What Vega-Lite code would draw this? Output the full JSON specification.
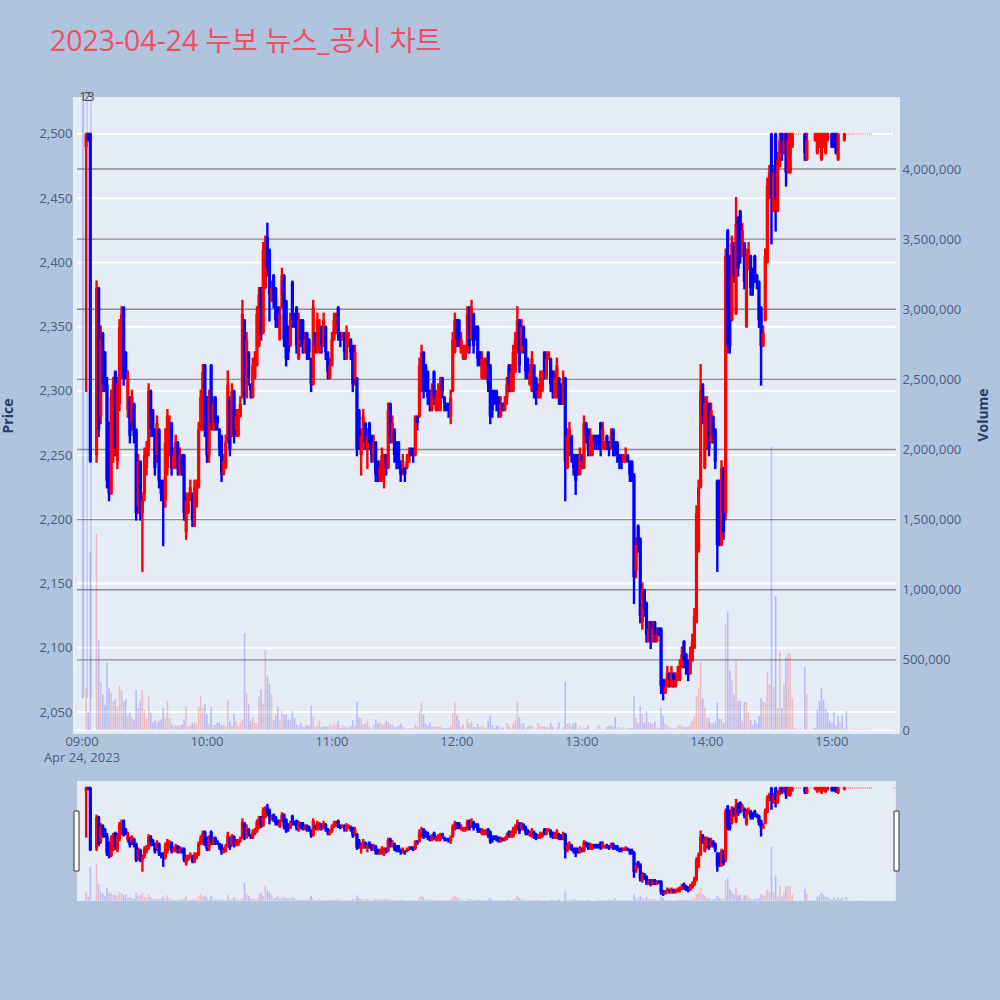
{"$schema":"https://vega.github.io/schema/vega-lite/v6.json","background":"#B0C4DE","padding":{"left":1,"top":27,"right":14,"bottom":104},"bounds":"flush","spacing":47,"title":{"text":"2023-04-24 누보 뉴스_공시 차트","anchor":"start","frame":"group","fontSize":28.4,"font":"Open Sans, Noto Sans CJK KR","color":"#EF5064","fontWeight":"normal","offset":34,"dx":-23},"config":{"view":{"stroke":null},"axis":{"labelFont":"Open Sans","titleFont":"Open Sans"}},"datasets":{"ohlc":[
{"t":"2023-04-24T09:02","o":2490,"h":2500,"l":2300,"c":2500,"v":300000},
{"t":"2023-04-24T09:03","o":2500,"h":2500,"l":2495,"c":2495,"v":130000},
{"t":"2023-04-24T09:04","o":2500,"h":2500,"l":2245,"c":2245,"v":1270000},
{"t":"2023-04-24T09:07","o":2250,"h":2385,"l":2245,"c":2380,"v":1400000},
{"t":"2023-04-24T09:08","o":2380,"h":2380,"l":2265,"c":2270,"v":640000},
{"t":"2023-04-24T09:09","o":2280,"h":2350,"l":2275,"c":2340,"v":340000},
{"t":"2023-04-24T09:10","o":2345,"h":2345,"l":2300,"c":2305,"v":255000},
{"t":"2023-04-24T09:11","o":2330,"h":2330,"l":2300,"c":2305,"v":180000},
{"t":"2023-04-24T09:12","o":2305,"h":2310,"l":2225,"c":2230,"v":480000},
{"t":"2023-04-24T09:13","o":2275,"h":2275,"l":2215,"c":2220,"v":300000},
{"t":"2023-04-24T09:14","o":2220,"h":2300,"l":2220,"c":2295,"v":265000},
{"t":"2023-04-24T09:15","o":2250,"h":2310,"l":2245,"c":2305,"v":205000},
{"t":"2023-04-24T09:16","o":2315,"h":2315,"l":2250,"c":2255,"v":220000},
{"t":"2023-04-24T09:17","o":2245,"h":2310,"l":2240,"c":2305,"v":165000},
{"t":"2023-04-24T09:18","o":2290,"h":2355,"l":2285,"c":2350,"v":315000},
{"t":"2023-04-24T09:19","o":2315,"h":2365,"l":2310,"c":2360,"v":280000},
{"t":"2023-04-24T09:20","o":2365,"h":2365,"l":2305,"c":2310,"v":205000},
{"t":"2023-04-24T09:21","o":2330,"h":2330,"l":2310,"c":2315,"v":220000},
{"t":"2023-04-24T09:22","o":2285,"h":2315,"l":2280,"c":2310,"v":100000},
{"t":"2023-04-24T09:23","o":2295,"h":2295,"l":2260,"c":2265,"v":125000},
{"t":"2023-04-24T09:24","o":2275,"h":2300,"l":2270,"c":2295,"v":90000},
{"t":"2023-04-24T09:25","o":2290,"h":2290,"l":2260,"c":2265,"v":75000},
{"t":"2023-04-24T09:26","o":2270,"h":2270,"l":2200,"c":2205,"v":285000},
{"t":"2023-04-24T09:27","o":2210,"h":2250,"l":2205,"c":2245,"v":160000},
{"t":"2023-04-24T09:28","o":2245,"h":2245,"l":2200,"c":2205,"v":210000},
{"t":"2023-04-24T09:29","o":2205,"h":2220,"l":2160,"c":2215,"v":285000},
{"t":"2023-04-24T09:30","o":2220,"h":2255,"l":2215,"c":2250,"v":145000},
{"t":"2023-04-24T09:31","o":2240,"h":2260,"l":2235,"c":2255,"v":85000},
{"t":"2023-04-24T09:32","o":2255,"h":2305,"l":2250,"c":2300,"v":240000},
{"t":"2023-04-24T09:33","o":2300,"h":2300,"l":2265,"c":2270,"v":125000},
{"t":"2023-04-24T09:34","o":2285,"h":2285,"l":2265,"c":2270,"v":55000},
{"t":"2023-04-24T09:35","o":2270,"h":2270,"l":2235,"c":2240,"v":70000},
{"t":"2023-04-24T09:36","o":2250,"h":2280,"l":2245,"c":2275,"v":55000},
{"t":"2023-04-24T09:37","o":2270,"h":2270,"l":2225,"c":2230,"v":65000},
{"t":"2023-04-24T09:38","o":2230,"h":2230,"l":2215,"c":2220,"v":75000},
{"t":"2023-04-24T09:39","o":2230,"h":2230,"l":2180,"c":2220,"v":160000},
{"t":"2023-04-24T09:40","o":2215,"h":2270,"l":2210,"c":2260,"v":85000},
{"t":"2023-04-24T09:41","o":2240,"h":2285,"l":2235,"c":2280,"v":205000},
{"t":"2023-04-24T09:42","o":2255,"h":2280,"l":2250,"c":2275,"v":85000},
{"t":"2023-04-24T09:43","o":2275,"h":2275,"l":2235,"c":2240,"v":45000},
{"t":"2023-04-24T09:44","o":2240,"h":2255,"l":2240,"c":2250,"v":30000},
{"t":"2023-04-24T09:45","o":2240,"h":2265,"l":2240,"c":2260,"v":35000},
{"t":"2023-04-24T09:46","o":2260,"h":2260,"l":2235,"c":2240,"v":30000},
{"t":"2023-04-24T09:47","o":2240,"h":2255,"l":2235,"c":2250,"v":40000},
{"t":"2023-04-24T09:48","o":2250,"h":2250,"l":2235,"c":2240,"v":40000},
{"t":"2023-04-24T09:49","o":2250,"h":2250,"l":2200,"c":2205,"v":75000},
{"t":"2023-04-24T09:50","o":2190,"h":2220,"l":2185,"c":2215,"v":165000},
{"t":"2023-04-24T09:51","o":2205,"h":2220,"l":2205,"c":2215,"v":25000},
{"t":"2023-04-24T09:52","o":2215,"h":2230,"l":2215,"c":2225,"v":30000},
{"t":"2023-04-24T09:53","o":2220,"h":2220,"l":2195,"c":2200,"v":50000},
{"t":"2023-04-24T09:54","o":2195,"h":2230,"l":2195,"c":2225,"v":55000},
{"t":"2023-04-24T09:55","o":2210,"h":2230,"l":2210,"c":2225,"v":45000},
{"t":"2023-04-24T09:56","o":2225,"h":2275,"l":2225,"c":2270,"v":165000},
{"t":"2023-04-24T09:57","o":2270,"h":2300,"l":2270,"c":2295,"v":240000},
{"t":"2023-04-24T09:58","o":2270,"h":2320,"l":2270,"c":2315,"v":160000},
{"t":"2023-04-24T09:59","o":2320,"h":2320,"l":2265,"c":2270,"v":185000},
{"t":"2023-04-24T10:00","o":2295,"h":2295,"l":2245,"c":2250,"v":110000},
{"t":"2023-04-24T10:01","o":2250,"h":2300,"l":2245,"c":2295,"v":45000},
{"t":"2023-04-24T10:02","o":2320,"h":2320,"l":2270,"c":2275,"v":165000},
{"t":"2023-04-24T10:03","o":2270,"h":2295,"l":2270,"c":2290,"v":35000},
{"t":"2023-04-24T10:04","o":2295,"h":2295,"l":2270,"c":2275,"v":35000},
{"t":"2023-04-24T10:05","o":2280,"h":2280,"l":2270,"c":2275,"v":50000},
{"t":"2023-04-24T10:06","o":2270,"h":2270,"l":2250,"c":2255,"v":55000},
{"t":"2023-04-24T10:07","o":2265,"h":2265,"l":2230,"c":2235,"v":35000},
{"t":"2023-04-24T10:08","o":2235,"h":2250,"l":2235,"c":2245,"v":40000},
{"t":"2023-04-24T10:09","o":2240,"h":2265,"l":2240,"c":2260,"v":25000},
{"t":"2023-04-24T10:10","o":2260,"h":2315,"l":2260,"c":2305,"v":210000},
{"t":"2023-04-24T10:11","o":2295,"h":2295,"l":2250,"c":2255,"v":65000},
{"t":"2023-04-24T10:12","o":2265,"h":2305,"l":2265,"c":2300,"v":30000},
{"t":"2023-04-24T10:13","o":2300,"h":2300,"l":2260,"c":2265,"v":115000},
{"t":"2023-04-24T10:14","o":2270,"h":2285,"l":2265,"c":2280,"v":65000},
{"t":"2023-04-24T10:15","o":2265,"h":2285,"l":2265,"c":2280,"v":30000},
{"t":"2023-04-24T10:16","o":2280,"h":2295,"l":2280,"c":2290,"v":55000},
{"t":"2023-04-24T10:17","o":2295,"h":2370,"l":2295,"c":2360,"v":75000},
{"t":"2023-04-24T10:18","o":2355,"h":2355,"l":2290,"c":2295,"v":690000},
{"t":"2023-04-24T10:19","o":2295,"h":2345,"l":2295,"c":2340,"v":265000},
{"t":"2023-04-24T10:20","o":2330,"h":2330,"l":2305,"c":2310,"v":185000},
{"t":"2023-04-24T10:21","o":2305,"h":2305,"l":2295,"c":2300,"v":65000},
{"t":"2023-04-24T10:22","o":2295,"h":2325,"l":2295,"c":2320,"v":90000},
{"t":"2023-04-24T10:23","o":2310,"h":2330,"l":2310,"c":2325,"v":50000},
{"t":"2023-04-24T10:24","o":2320,"h":2365,"l":2320,"c":2360,"v":50000},
{"t":"2023-04-24T10:25","o":2335,"h":2380,"l":2335,"c":2375,"v":235000},
{"t":"2023-04-24T10:26","o":2380,"h":2380,"l":2340,"c":2345,"v":290000},
{"t":"2023-04-24T10:27","o":2345,"h":2415,"l":2345,"c":2410,"v":185000},
{"t":"2023-04-24T10:28","o":2380,"h":2420,"l":2380,"c":2415,"v":570000},
{"t":"2023-04-24T10:29","o":2420,"h":2430,"l":2390,"c":2395,"v":380000},
{"t":"2023-04-24T10:30","o":2410,"h":2410,"l":2355,"c":2375,"v":330000},
{"t":"2023-04-24T10:31","o":2370,"h":2385,"l":2370,"c":2380,"v":255000},
{"t":"2023-04-24T10:32","o":2390,"h":2390,"l":2365,"c":2370,"v":70000},
{"t":"2023-04-24T10:33","o":2380,"h":2380,"l":2350,"c":2355,"v":105000},
{"t":"2023-04-24T10:34","o":2365,"h":2365,"l":2350,"c":2355,"v":165000},
{"t":"2023-04-24T10:35","o":2340,"h":2365,"l":2340,"c":2360,"v":70000},
{"t":"2023-04-24T10:36","o":2365,"h":2395,"l":2365,"c":2390,"v":135000},
{"t":"2023-04-24T10:37","o":2390,"h":2390,"l":2335,"c":2340,"v":110000},
{"t":"2023-04-24T10:38","o":2370,"h":2370,"l":2320,"c":2325,"v":110000},
{"t":"2023-04-24T10:39","o":2350,"h":2350,"l":2325,"c":2330,"v":75000},
{"t":"2023-04-24T10:40","o":2335,"h":2360,"l":2335,"c":2355,"v":70000},
{"t":"2023-04-24T10:41","o":2385,"h":2385,"l":2350,"c":2355,"v":135000},
{"t":"2023-04-24T10:42","o":2360,"h":2360,"l":2350,"c":2355,"v":85000},
{"t":"2023-04-24T10:43","o":2365,"h":2365,"l":2330,"c":2335,"v":40000},
{"t":"2023-04-24T10:44","o":2325,"h":2360,"l":2325,"c":2355,"v":30000},
{"t":"2023-04-24T10:45","o":2355,"h":2355,"l":2335,"c":2340,"v":50000},
{"t":"2023-04-24T10:46","o":2355,"h":2355,"l":2330,"c":2335,"v":25000},
{"t":"2023-04-24T10:47","o":2330,"h":2345,"l":2330,"c":2340,"v":25000},
{"t":"2023-04-24T10:48","o":2345,"h":2345,"l":2325,"c":2330,"v":35000},
{"t":"2023-04-24T10:49","o":2340,"h":2340,"l":2325,"c":2330,"v":30000},
{"t":"2023-04-24T10:50","o":2325,"h":2325,"l":2300,"c":2305,"v":175000},
{"t":"2023-04-24T10:51","o":2305,"h":2370,"l":2305,"c":2365,"v":95000},
{"t":"2023-04-24T10:52","o":2345,"h":2345,"l":2330,"c":2335,"v":20000},
{"t":"2023-04-24T10:53","o":2330,"h":2360,"l":2330,"c":2355,"v":30000},
{"t":"2023-04-24T10:54","o":2330,"h":2355,"l":2330,"c":2350,"v":65000},
{"t":"2023-04-24T10:55","o":2350,"h":2350,"l":2330,"c":2335,"v":20000},
{"t":"2023-04-24T10:56","o":2335,"h":2360,"l":2335,"c":2355,"v":30000},
{"t":"2023-04-24T10:57","o":2350,"h":2350,"l":2325,"c":2330,"v":25000},
{"t":"2023-04-24T10:58","o":2330,"h":2330,"l":2310,"c":2315,"v":20000},
{"t":"2023-04-24T10:59","o":2310,"h":2325,"l":2310,"c":2320,"v":40000},
{"t":"2023-04-24T11:00","o":2320,"h":2345,"l":2320,"c":2340,"v":30000},
{"t":"2023-04-24T11:01","o":2340,"h":2360,"l":2340,"c":2355,"v":40000},
{"t":"2023-04-24T11:02","o":2345,"h":2360,"l":2345,"c":2355,"v":40000},
{"t":"2023-04-24T11:03","o":2365,"h":2365,"l":2340,"c":2345,"v":65000},
{"t":"2023-04-24T11:04","o":2345,"h":2345,"l":2335,"c":2340,"v":15000},
{"t":"2023-04-24T11:05","o":2340,"h":2345,"l":2340,"c":2345,"v":35000},
{"t":"2023-04-24T11:06","o":2345,"h":2345,"l":2325,"c":2330,"v":20000},
{"t":"2023-04-24T11:07","o":2325,"h":2350,"l":2325,"c":2345,"v":20000},
{"t":"2023-04-24T11:08","o":2335,"h":2345,"l":2335,"c":2340,"v":15000},
{"t":"2023-04-24T11:09","o":2340,"h":2340,"l":2325,"c":2330,"v":30000},
{"t":"2023-04-24T11:10","o":2335,"h":2335,"l":2300,"c":2305,"v":70000},
{"t":"2023-04-24T11:11","o":2310,"h":2335,"l":2305,"c":2330,"v":30000},
{"t":"2023-04-24T11:12","o":2310,"h":2310,"l":2250,"c":2255,"v":200000},
{"t":"2023-04-24T11:13","o":2285,"h":2285,"l":2255,"c":2260,"v":90000},
{"t":"2023-04-24T11:14","o":2250,"h":2270,"l":2235,"c":2265,"v":85000},
{"t":"2023-04-24T11:15","o":2255,"h":2285,"l":2255,"c":2280,"v":40000},
{"t":"2023-04-24T11:16","o":2275,"h":2275,"l":2255,"c":2260,"v":45000},
{"t":"2023-04-24T11:17","o":2255,"h":2270,"l":2240,"c":2265,"v":65000},
{"t":"2023-04-24T11:18","o":2275,"h":2275,"l":2255,"c":2260,"v":20000},
{"t":"2023-04-24T11:19","o":2265,"h":2265,"l":2245,"c":2250,"v":10000},
{"t":"2023-04-24T11:20","o":2250,"h":2265,"l":2245,"c":2260,"v":40000},
{"t":"2023-04-24T11:21","o":2260,"h":2260,"l":2230,"c":2235,"v":75000},
{"t":"2023-04-24T11:22","o":2245,"h":2245,"l":2230,"c":2235,"v":50000},
{"t":"2023-04-24T11:23","o":2235,"h":2245,"l":2230,"c":2240,"v":55000},
{"t":"2023-04-24T11:24","o":2240,"h":2255,"l":2230,"c":2250,"v":40000},
{"t":"2023-04-24T11:25","o":2235,"h":2250,"l":2225,"c":2245,"v":45000},
{"t":"2023-04-24T11:26","o":2250,"h":2250,"l":2235,"c":2240,"v":65000},
{"t":"2023-04-24T11:27","o":2240,"h":2290,"l":2240,"c":2285,"v":55000},
{"t":"2023-04-24T11:28","o":2290,"h":2290,"l":2260,"c":2265,"v":40000},
{"t":"2023-04-24T11:29","o":2260,"h":2280,"l":2260,"c":2275,"v":40000},
{"t":"2023-04-24T11:30","o":2270,"h":2270,"l":2245,"c":2250,"v":20000},
{"t":"2023-04-24T11:31","o":2260,"h":2260,"l":2240,"c":2245,"v":20000},
{"t":"2023-04-24T11:32","o":2260,"h":2260,"l":2240,"c":2245,"v":30000},
{"t":"2023-04-24T11:33","o":2245,"h":2245,"l":2230,"c":2235,"v":45000},
{"t":"2023-04-24T11:34","o":2240,"h":2250,"l":2235,"c":2245,"v":25000},
{"t":"2023-04-24T11:35","o":2240,"h":2240,"l":2230,"c":2235,"v":10000},
{"t":"2023-04-24T11:36","o":2240,"h":2250,"l":2240,"c":2245,"v":10000},
{"t":"2023-04-24T11:37","o":2245,"h":2255,"l":2245,"c":2250,"v":10000},
{"t":"2023-04-24T11:38","o":2255,"h":2255,"l":2250,"c":2250,"v":15000},
{"t":"2023-04-24T11:39","o":2255,"h":2255,"l":2245,"c":2250,"v":10000},
{"t":"2023-04-24T11:40","o":2250,"h":2280,"l":2250,"c":2280,"v":35000},
{"t":"2023-04-24T11:41","o":2280,"h":2280,"l":2270,"c":2275,"v":25000},
{"t":"2023-04-24T11:42","o":2280,"h":2325,"l":2280,"c":2320,"v":135000},
{"t":"2023-04-24T11:43","o":2300,"h":2335,"l":2300,"c":2330,"v":195000},
{"t":"2023-04-24T11:44","o":2330,"h":2330,"l":2295,"c":2300,"v":110000},
{"t":"2023-04-24T11:45","o":2320,"h":2320,"l":2300,"c":2305,"v":45000},
{"t":"2023-04-24T11:46","o":2315,"h":2315,"l":2290,"c":2295,"v":30000},
{"t":"2023-04-24T11:47","o":2300,"h":2300,"l":2285,"c":2290,"v":55000},
{"t":"2023-04-24T11:48","o":2285,"h":2305,"l":2285,"c":2300,"v":25000},
{"t":"2023-04-24T11:49","o":2315,"h":2315,"l":2290,"c":2295,"v":20000},
{"t":"2023-04-24T11:50","o":2285,"h":2300,"l":2285,"c":2295,"v":25000},
{"t":"2023-04-24T11:51","o":2285,"h":2305,"l":2285,"c":2300,"v":25000},
{"t":"2023-04-24T11:52","o":2285,"h":2310,"l":2285,"c":2305,"v":25000},
{"t":"2023-04-24T11:53","o":2310,"h":2310,"l":2295,"c":2300,"v":10000},
{"t":"2023-04-24T11:54","o":2295,"h":2295,"l":2285,"c":2290,"v":15000},
{"t":"2023-04-24T11:55","o":2290,"h":2290,"l":2285,"c":2285,"v":15000},
{"t":"2023-04-24T11:56","o":2290,"h":2290,"l":2280,"c":2285,"v":15000},
{"t":"2023-04-24T11:57","o":2280,"h":2300,"l":2275,"c":2295,"v":30000},
{"t":"2023-04-24T11:58","o":2300,"h":2345,"l":2300,"c":2340,"v":120000},
{"t":"2023-04-24T11:59","o":2330,"h":2360,"l":2330,"c":2355,"v":195000},
{"t":"2023-04-24T12:00","o":2355,"h":2355,"l":2335,"c":2340,"v":105000},
{"t":"2023-04-24T12:01","o":2355,"h":2355,"l":2335,"c":2340,"v":70000},
{"t":"2023-04-24T12:02","o":2330,"h":2345,"l":2330,"c":2340,"v":25000},
{"t":"2023-04-24T12:03","o":2325,"h":2335,"l":2325,"c":2330,"v":40000},
{"t":"2023-04-24T12:04","o":2325,"h":2335,"l":2325,"c":2330,"v":10000},
{"t":"2023-04-24T12:05","o":2330,"h":2365,"l":2330,"c":2360,"v":80000},
{"t":"2023-04-24T12:06","o":2365,"h":2365,"l":2330,"c":2335,"v":45000},
{"t":"2023-04-24T12:07","o":2340,"h":2370,"l":2340,"c":2365,"v":65000},
{"t":"2023-04-24T12:08","o":2360,"h":2360,"l":2330,"c":2335,"v":20000},
{"t":"2023-04-24T12:09","o":2350,"h":2350,"l":2340,"c":2345,"v":20000},
{"t":"2023-04-24T12:10","o":2350,"h":2350,"l":2320,"c":2325,"v":45000},
{"t":"2023-04-24T12:11","o":2330,"h":2330,"l":2320,"c":2325,"v":20000},
{"t":"2023-04-24T12:12","o":2310,"h":2330,"l":2310,"c":2325,"v":25000},
{"t":"2023-04-24T12:13","o":2310,"h":2325,"l":2310,"c":2320,"v":20000},
{"t":"2023-04-24T12:14","o":2310,"h":2325,"l":2310,"c":2320,"v":15000},
{"t":"2023-04-24T12:15","o":2330,"h":2330,"l":2300,"c":2305,"v":65000},
{"t":"2023-04-24T12:16","o":2320,"h":2320,"l":2275,"c":2280,"v":105000},
{"t":"2023-04-24T12:17","o":2300,"h":2300,"l":2280,"c":2285,"v":35000},
{"t":"2023-04-24T12:18","o":2300,"h":2300,"l":2290,"c":2295,"v":15000},
{"t":"2023-04-24T12:19","o":2300,"h":2300,"l":2285,"c":2290,"v":30000},
{"t":"2023-04-24T12:20","o":2295,"h":2295,"l":2280,"c":2285,"v":25000},
{"t":"2023-04-24T12:21","o":2280,"h":2295,"l":2280,"c":2290,"v":10000},
{"t":"2023-04-24T12:22","o":2290,"h":2290,"l":2285,"c":2285,"v":20000},
{"t":"2023-04-24T12:23","o":2285,"h":2295,"l":2285,"c":2290,"v":5000},
{"t":"2023-04-24T12:24","o":2295,"h":2310,"l":2290,"c":2305,"v":50000},
{"t":"2023-04-24T12:25","o":2320,"h":2320,"l":2300,"c":2305,"v":25000},
{"t":"2023-04-24T12:26","o":2300,"h":2320,"l":2300,"c":2315,"v":10000},
{"t":"2023-04-24T12:27","o":2300,"h":2335,"l":2300,"c":2330,"v":45000},
{"t":"2023-04-24T12:28","o":2315,"h":2345,"l":2315,"c":2340,"v":70000},
{"t":"2023-04-24T12:29","o":2330,"h":2365,"l":2330,"c":2355,"v":200000},
{"t":"2023-04-24T12:30","o":2355,"h":2355,"l":2315,"c":2320,"v":90000},
{"t":"2023-04-24T12:31","o":2330,"h":2355,"l":2330,"c":2350,"v":45000},
{"t":"2023-04-24T12:32","o":2350,"h":2350,"l":2330,"c":2335,"v":50000},
{"t":"2023-04-24T12:33","o":2340,"h":2340,"l":2310,"c":2315,"v":10000},
{"t":"2023-04-24T12:34","o":2325,"h":2325,"l":2310,"c":2315,"v":25000},
{"t":"2023-04-24T12:35","o":2305,"h":2320,"l":2305,"c":2315,"v":30000},
{"t":"2023-04-24T12:36","o":2300,"h":2330,"l":2300,"c":2325,"v":30000},
{"t":"2023-04-24T12:37","o":2320,"h":2320,"l":2295,"c":2300,"v":5000},
{"t":"2023-04-24T12:38","o":2310,"h":2310,"l":2290,"c":2295,"v":10000},
{"t":"2023-04-24T12:39","o":2295,"h":2305,"l":2295,"c":2300,"v":50000},
{"t":"2023-04-24T12:40","o":2295,"h":2315,"l":2295,"c":2310,"v":28000},
{"t":"2023-04-24T12:41","o":2300,"h":2315,"l":2300,"c":2310,"v":25000},
{"t":"2023-04-24T12:42","o":2330,"h":2330,"l":2310,"c":2315,"v":25000},
{"t":"2023-04-24T12:43","o":2310,"h":2330,"l":2310,"c":2325,"v":20000},
{"t":"2023-04-24T12:44","o":2325,"h":2330,"l":2325,"c":2330,"v":20000},
{"t":"2023-04-24T12:45","o":2325,"h":2325,"l":2300,"c":2305,"v":50000},
{"t":"2023-04-24T12:46","o":2315,"h":2315,"l":2295,"c":2300,"v":25000},
{"t":"2023-04-24T12:47","o":2295,"h":2315,"l":2295,"c":2310,"v":5000},
{"t":"2023-04-24T12:48","o":2295,"h":2325,"l":2295,"c":2320,"v":20000},
{"t":"2023-04-24T12:49","o":2310,"h":2310,"l":2290,"c":2295,"v":55000},
{"t":"2023-04-24T12:50","o":2305,"h":2305,"l":2290,"c":2295,"v":5000},
{"t":"2023-04-24T12:51","o":2290,"h":2315,"l":2290,"c":2310,"v":25000},
{"t":"2023-04-24T12:52","o":2310,"h":2310,"l":2215,"c":2245,"v":345000},
{"t":"2023-04-24T12:53","o":2240,"h":2270,"l":2240,"c":2265,"v":45000},
{"t":"2023-04-24T12:54","o":2250,"h":2275,"l":2250,"c":2270,"v":50000},
{"t":"2023-04-24T12:55","o":2265,"h":2265,"l":2245,"c":2250,"v":30000},
{"t":"2023-04-24T12:56","o":2250,"h":2250,"l":2235,"c":2240,"v":50000},
{"t":"2023-04-24T12:57","o":2250,"h":2250,"l":2220,"c":2230,"v":50000},
{"t":"2023-04-24T12:58","o":2250,"h":2250,"l":2235,"c":2240,"v":10000},
{"t":"2023-04-24T12:59","o":2235,"h":2255,"l":2235,"c":2250,"v":25000},
{"t":"2023-04-24T13:00","o":2250,"h":2250,"l":2240,"c":2245,"v":5000},
{"t":"2023-04-24T13:01","o":2240,"h":2280,"l":2240,"c":2275,"v":20000},
{"t":"2023-04-24T13:02","o":2275,"h":2275,"l":2260,"c":2265,"v":15000},
{"t":"2023-04-24T13:03","o":2270,"h":2270,"l":2250,"c":2255,"v":30000},
{"t":"2023-04-24T13:04","o":2250,"h":2270,"l":2250,"c":2265,"v":5000},
{"t":"2023-04-24T13:05","o":2250,"h":2265,"l":2250,"c":2260,"v":5000},
{"t":"2023-04-24T13:06","o":2265,"h":2265,"l":2255,"c":2260,"v":5000},
{"t":"2023-04-24T13:07","o":2265,"h":2265,"l":2255,"c":2260,"v":5000},
{"t":"2023-04-24T13:08","o":2265,"h":2265,"l":2255,"c":2260,"v":33000},
{"t":"2023-04-24T13:09","o":2275,"h":2275,"l":2250,"c":2255,"v":10000},
{"t":"2023-04-24T13:10","o":2255,"h":2275,"l":2255,"c":2270,"v":5000},
{"t":"2023-04-24T13:11","o":2255,"h":2260,"l":2255,"c":2260,"v":5000},
{"t":"2023-04-24T13:12","o":2265,"h":2265,"l":2255,"c":2260,"v":25000},
{"t":"2023-04-24T13:13","o":2260,"h":2260,"l":2250,"c":2255,"v":30000},
{"t":"2023-04-24T13:14","o":2255,"h":2270,"l":2255,"c":2265,"v":30000},
{"t":"2023-04-24T13:15","o":2270,"h":2270,"l":2250,"c":2255,"v":25000},
{"t":"2023-04-24T13:16","o":2260,"h":2260,"l":2250,"c":2255,"v":90000},
{"t":"2023-04-24T13:17","o":2260,"h":2260,"l":2245,"c":2250,"v":10000},
{"t":"2023-04-24T13:18","o":2250,"h":2250,"l":2240,"c":2245,"v":20000},
{"t":"2023-04-24T13:19","o":2250,"h":2250,"l":2240,"c":2245,"v":10000},
{"t":"2023-04-24T13:20","o":2245,"h":2250,"l":2245,"c":2250,"v":20000},
{"t":"2023-04-24T13:21","o":2245,"h":2255,"l":2245,"c":2250,"v":10000},
{"t":"2023-04-24T13:22","o":2250,"h":2250,"l":2245,"c":2245,"v":10000},
{"t":"2023-04-24T13:23","o":2245,"h":2245,"l":2230,"c":2235,"v":15000},
{"t":"2023-04-24T13:24","o":2245,"h":2245,"l":2230,"c":2235,"v":15000},
{"t":"2023-04-24T13:25","o":2235,"h":2235,"l":2135,"c":2155,"v":240000},
{"t":"2023-04-24T13:26","o":2160,"h":2185,"l":2155,"c":2180,"v":85000},
{"t":"2023-04-24T13:27","o":2195,"h":2195,"l":2175,"c":2180,"v":50000},
{"t":"2023-04-24T13:28","o":2185,"h":2185,"l":2120,"c":2125,"v":170000},
{"t":"2023-04-24T13:29","o":2120,"h":2150,"l":2115,"c":2145,"v":115000},
{"t":"2023-04-24T13:30","o":2145,"h":2145,"l":2125,"c":2130,"v":50000},
{"t":"2023-04-24T13:31","o":2135,"h":2135,"l":2105,"c":2110,"v":135000},
{"t":"2023-04-24T13:32","o":2105,"h":2120,"l":2105,"c":2115,"v":55000},
{"t":"2023-04-24T13:33","o":2120,"h":2120,"l":2100,"c":2105,"v":50000},
{"t":"2023-04-24T13:34","o":2105,"h":2120,"l":2105,"c":2115,"v":45000},
{"t":"2023-04-24T13:35","o":2120,"h":2120,"l":2105,"c":2110,"v":60000},
{"t":"2023-04-24T13:36","o":2105,"h":2115,"l":2105,"c":2110,"v":20000},
{"t":"2023-04-24T13:37","o":2115,"h":2115,"l":2110,"c":2110,"v":10000},
{"t":"2023-04-24T13:38","o":2115,"h":2115,"l":2065,"c":2070,"v":160000},
{"t":"2023-04-24T13:39","o":2075,"h":2075,"l":2060,"c":2065,"v":105000},
{"t":"2023-04-24T13:40","o":2065,"h":2075,"l":2065,"c":2070,"v":45000},
{"t":"2023-04-24T13:41","o":2070,"h":2085,"l":2070,"c":2080,"v":35000},
{"t":"2023-04-24T13:42","o":2080,"h":2080,"l":2070,"c":2075,"v":20000},
{"t":"2023-04-24T13:43","o":2070,"h":2085,"l":2070,"c":2080,"v":20000},
{"t":"2023-04-24T13:44","o":2080,"h":2080,"l":2070,"c":2075,"v":10000},
{"t":"2023-04-24T13:45","o":2070,"h":2080,"l":2070,"c":2075,"v":15000},
{"t":"2023-04-24T13:46","o":2075,"h":2085,"l":2075,"c":2080,"v":30000},
{"t":"2023-04-24T13:47","o":2075,"h":2090,"l":2075,"c":2085,"v":40000},
{"t":"2023-04-24T13:48","o":2085,"h":2100,"l":2085,"c":2095,"v":30000},
{"t":"2023-04-24T13:49","o":2105,"h":2105,"l":2085,"c":2090,"v":20000},
{"t":"2023-04-24T13:50","o":2095,"h":2095,"l":2080,"c":2085,"v":20000},
{"t":"2023-04-24T13:51","o":2090,"h":2090,"l":2075,"c":2080,"v":20000},
{"t":"2023-04-24T13:52","o":2080,"h":2100,"l":2080,"c":2095,"v":35000},
{"t":"2023-04-24T13:53","o":2090,"h":2110,"l":2090,"c":2105,"v":65000},
{"t":"2023-04-24T13:54","o":2100,"h":2130,"l":2100,"c":2125,"v":95000},
{"t":"2023-04-24T13:55","o":2120,"h":2210,"l":2120,"c":2205,"v":240000},
{"t":"2023-04-24T13:56","o":2175,"h":2230,"l":2175,"c":2225,"v":300000},
{"t":"2023-04-24T13:57","o":2225,"h":2320,"l":2225,"c":2300,"v":485000},
{"t":"2023-04-24T13:58","o":2305,"h":2305,"l":2275,"c":2280,"v":225000},
{"t":"2023-04-24T13:59","o":2240,"h":2295,"l":2240,"c":2290,"v":160000},
{"t":"2023-04-24T14:00","o":2255,"h":2295,"l":2255,"c":2290,"v":90000},
{"t":"2023-04-24T14:01","o":2290,"h":2290,"l":2250,"c":2255,"v":90000},
{"t":"2023-04-24T14:02","o":2260,"h":2290,"l":2260,"c":2285,"v":50000},
{"t":"2023-04-24T14:03","o":2280,"h":2280,"l":2260,"c":2265,"v":50000},
{"t":"2023-04-24T14:04","o":2270,"h":2270,"l":2240,"c":2245,"v":60000},
{"t":"2023-04-24T14:05","o":2230,"h":2230,"l":2160,"c":2180,"v":195000},
{"t":"2023-04-24T14:06","o":2230,"h":2230,"l":2180,"c":2185,"v":80000},
{"t":"2023-04-24T14:07","o":2180,"h":2245,"l":2180,"c":2240,"v":80000},
{"t":"2023-04-24T14:08","o":2240,"h":2240,"l":2185,"c":2190,"v":50000},
{"t":"2023-04-24T14:09","o":2205,"h":2410,"l":2200,"c":2405,"v":760000},
{"t":"2023-04-24T14:10","o":2425,"h":2425,"l":2330,"c":2335,"v":845000},
{"t":"2023-04-24T14:11","o":2405,"h":2405,"l":2330,"c":2335,"v":425000},
{"t":"2023-04-24T14:12","o":2355,"h":2420,"l":2355,"c":2415,"v":355000},
{"t":"2023-04-24T14:13","o":2415,"h":2415,"l":2385,"c":2390,"v":255000},
{"t":"2023-04-24T14:14","o":2360,"h":2450,"l":2360,"c":2430,"v":490000},
{"t":"2023-04-24T14:15","o":2435,"h":2435,"l":2390,"c":2395,"v":205000},
{"t":"2023-04-24T14:16","o":2440,"h":2440,"l":2400,"c":2405,"v":210000},
{"t":"2023-04-24T14:17","o":2405,"h":2430,"l":2405,"c":2425,"v":65000},
{"t":"2023-04-24T14:18","o":2415,"h":2415,"l":2380,"c":2385,"v":200000},
{"t":"2023-04-24T14:19","o":2350,"h":2410,"l":2350,"c":2405,"v":200000},
{"t":"2023-04-24T14:20","o":2395,"h":2415,"l":2395,"c":2410,"v":125000},
{"t":"2023-04-24T14:21","o":2405,"h":2405,"l":2375,"c":2380,"v":70000},
{"t":"2023-04-24T14:22","o":2395,"h":2395,"l":2375,"c":2380,"v":35000},
{"t":"2023-04-24T14:23","o":2405,"h":2405,"l":2385,"c":2390,"v":70000},
{"t":"2023-04-24T14:24","o":2390,"h":2390,"l":2380,"c":2385,"v":45000},
{"t":"2023-04-24T14:25","o":2385,"h":2385,"l":2350,"c":2355,"v":100000},
{"t":"2023-04-24T14:26","o":2365,"h":2365,"l":2305,"c":2335,"v":230000},
{"t":"2023-04-24T14:27","o":2335,"h":2350,"l":2335,"c":2345,"v":200000},
{"t":"2023-04-24T14:28","o":2355,"h":2410,"l":2355,"c":2405,"v":195000},
{"t":"2023-04-24T14:29","o":2400,"h":2465,"l":2400,"c":2460,"v":415000},
{"t":"2023-04-24T14:30","o":2450,"h":2475,"l":2450,"c":2470,"v":325000},
{"t":"2023-04-24T14:31","o":2500,"h":2500,"l":2415,"c":2450,"v":2020000},
{"t":"2023-04-24T14:32","o":2440,"h":2475,"l":2440,"c":2470,"v":305000},
{"t":"2023-04-24T14:33","o":2500,"h":2500,"l":2425,"c":2450,"v":955000},
{"t":"2023-04-24T14:34","o":2440,"h":2485,"l":2440,"c":2480,"v":155000},
{"t":"2023-04-24T14:35","o":2475,"h":2500,"l":2475,"c":2495,"v":560000},
{"t":"2023-04-24T14:36","o":2500,"h":2500,"l":2480,"c":2485,"v":155000},
{"t":"2023-04-24T14:37","o":2485,"h":2500,"l":2485,"c":2495,"v":325000},
{"t":"2023-04-24T14:38","o":2500,"h":2500,"l":2460,"c":2470,"v":520000},
{"t":"2023-04-24T14:39","o":2470,"h":2500,"l":2470,"c":2495,"v":545000},
{"t":"2023-04-24T14:40","o":2470,"h":2500,"l":2470,"c":2495,"v":545000},
{"t":"2023-04-24T14:41","o":2490,"h":2500,"l":2490,"c":2500,"v":225000},
{"t":"2023-04-24T14:42","o":2500,"h":2500,"l":2500,"c":2500,"v":15000},
{"t":"2023-04-24T14:43","o":2500,"h":2500,"l":2500,"c":2500,"v":10000},
{"t":"2023-04-24T14:44","o":2500,"h":2500,"l":2500,"c":2500,"v":5000},
{"t":"2023-04-24T14:45","o":2500,"h":2500,"l":2500,"c":2500,"v":10000},
{"t":"2023-04-24T14:47","o":2500,"h":2500,"l":2480,"c":2485,"v":450000},
{"t":"2023-04-24T14:48","o":2480,"h":2500,"l":2480,"c":2495,"v":255000},
{"t":"2023-04-24T14:49","o":2500,"h":2500,"l":2500,"c":2500,"v":5000},
{"t":"2023-04-24T14:50","o":2500,"h":2500,"l":2500,"c":2500,"v":5000},
{"t":"2023-04-24T14:51","o":2500,"h":2500,"l":2500,"c":2500,"v":10000},
{"t":"2023-04-24T14:52","o":2495,"h":2500,"l":2495,"c":2500,"v":15000,"vs":"d"},
{"t":"2023-04-24T14:53","o":2485,"h":2500,"l":2485,"c":2500,"v":145000,"vs":"d"},
{"t":"2023-04-24T14:54","o":2490,"h":2500,"l":2490,"c":2500,"v":205000,"vs":"d"},
{"t":"2023-04-24T14:55","o":2480,"h":2500,"l":2480,"c":2500,"v":300000,"vs":"d"},
{"t":"2023-04-24T14:56","o":2490,"h":2500,"l":2490,"c":2500,"v":215000,"vs":"d"},
{"t":"2023-04-24T14:57","o":2485,"h":2500,"l":2485,"c":2500,"v":150000,"vs":"d"},
{"t":"2023-04-24T14:58","o":2495,"h":2500,"l":2495,"c":2500,"v":125000,"vs":"d"},
{"t":"2023-04-24T14:59","o":2500,"h":2500,"l":2500,"c":2500,"v":65000,"vs":"d"},
{"t":"2023-04-24T15:00","o":2500,"h":2500,"l":2490,"c":2490,"v":50000},
{"t":"2023-04-24T15:01","o":2500,"h":2500,"l":2490,"c":2490,"v":125000},
{"t":"2023-04-24T15:02","o":2500,"h":2500,"l":2485,"c":2485,"v":30000},
{"t":"2023-04-24T15:03","o":2480,"h":2500,"l":2480,"c":2500,"v":105000,"vs":"d"},
{"t":"2023-04-24T15:04","o":2500,"h":2500,"l":2500,"c":2500,"v":60000},
{"t":"2023-04-24T15:05","o":2500,"h":2500,"l":2500,"c":2500,"v":105000,"vs":"d"},
{"t":"2023-04-24T15:06","o":2495,"h":2500,"l":2495,"c":2500,"v":10000},
{"t":"2023-04-24T15:07","o":2500,"h":2500,"l":2500,"c":2500,"v":135000,"vs":"d"},
{"t":"2023-04-24T15:08","o":2500,"h":2500,"l":2500,"c":2500,"v":5000},
{"t":"2023-04-24T15:09","o":2500,"h":2500,"l":2500,"c":2500,"v":5000},
{"t":"2023-04-24T15:10","o":2500,"h":2500,"l":2500,"c":2500,"v":5000},
{"t":"2023-04-24T15:11","o":2500,"h":2500,"l":2500,"c":2500,"v":10000},
{"t":"2023-04-24T15:12","o":2500,"h":2500,"l":2500,"c":2500,"v":5000},
{"t":"2023-04-24T15:13","o":2500,"h":2500,"l":2500,"c":2500,"v":8000},
{"t":"2023-04-24T15:14","o":2500,"h":2500,"l":2500,"c":2500,"v":5000},
{"t":"2023-04-24T15:15","o":2500,"h":2500,"l":2500,"c":2500,"v":5000},
{"t":"2023-04-24T15:16","o":2500,"h":2500,"l":2500,"c":2500,"v":5000},
{"t":"2023-04-24T15:17","o":2500,"h":2500,"l":2500,"c":2500,"v":5000},
{"t":"2023-04-24T15:18","o":2500,"h":2500,"l":2500,"c":2500,"v":5000},
{"t":"2023-04-24T15:19","o":2500,"h":2500,"l":2500,"c":2500,"v":5000},
{"t":"2023-04-24T15:30","o":2500,"h":2500,"l":2500,"c":2500,"v":5000}
],
"news":[{"t":"2023-04-24T09:00:30","label":"1","low":2061,"high":2528.8,"w":2.4},{"t":"2023-04-24T09:02:30","label":"2","low":2061,"high":2528.8,"w":1.2},{"t":"2023-04-24T09:04:20","label":"3","low":2061,"high":2528.8,"w":1.2}],
"vlabel":[{"t":"2023-04-24T16:13","v":2246000,"label":"Volume"}],
"xlabels":[{"t":"2023-04-24T09:00","pos":2026.6,"label":"09:00"},{"t":"2023-04-24T10:00","pos":2026.6,"label":"10:00"},{"t":"2023-04-24T11:00","pos":2026.6,"label":"11:00"},{"t":"2023-04-24T12:00","pos":2026.6,"label":"12:00"},{"t":"2023-04-24T13:00","pos":2026.6,"label":"13:00"},{"t":"2023-04-24T14:00","pos":2026.6,"label":"14:00"},{"t":"2023-04-24T15:00","pos":2026.6,"label":"15:00"},{"t":"2023-04-24T09:00","pos":2014.2,"label":"Apr 24, 2023"}],
"grid":[{"a":"2023-04-24T08:57:36","b":"2023-04-24T15:30:42","p":2050,"q":0},{"a":"2023-04-24T08:57:36","b":"2023-04-24T15:30:42","p":2100,"q":500000},{"a":"2023-04-24T08:57:36","b":"2023-04-24T15:30:42","p":2150,"q":1000000},{"a":"2023-04-24T08:57:36","b":"2023-04-24T15:30:42","p":2200,"q":1500000},{"a":"2023-04-24T08:57:36","b":"2023-04-24T15:30:42","p":2250,"q":2000000},{"a":"2023-04-24T08:57:36","b":"2023-04-24T15:30:42","p":2300,"q":2500000},{"a":"2023-04-24T08:57:36","b":"2023-04-24T15:30:42","p":2350,"q":3000000},{"a":"2023-04-24T08:57:36","b":"2023-04-24T15:30:42","p":2400,"q":3500000},{"a":"2023-04-24T08:57:36","b":"2023-04-24T15:30:42","p":2450,"q":4000000},{"a":"2023-04-24T08:57:36","b":"2023-04-24T15:30:42","p":2500}],
"sliderBg":[{"a":"2023-04-24T08:57:36","b":"2023-04-24T15:30:42","p":2034.4,"q":2528.8}],
"handles":[{"a":"2023-04-24T08:56:10","b":"2023-04-24T08:58:34","p":2158,"q":2405},{"a":"2023-04-24T15:29:50","b":"2023-04-24T15:32:14","p":2158,"q":2405}]
},
"vconcat":[
{"width":827,"height":637,"view":{"fill":"#E5ECF6","stroke":null},"resolve":{"scale":{"y":"independent"},"axis":{"y":"independent"}},"layer":[
{"data":{"name":"grid"},"transform":[{"filter":"isValid(datum.p)"}],"mark":{"type":"rule","color":"#FFFFFF","strokeWidth":2},"encoding":{"x":{"field":"a","type":"temporal","axis":null,"scale":{"domain":["2023-04-24T08:58:05","2023-04-24T15:30:18"]}},"x2":{"field":"b"},"y":{"field":"p","type":"quantitative","axis":null,"scale":{"domain":[2032.9,2528.8],"nice":false,"zero":false}}}},
{"layer":[
{"data":{"name":"grid"},"transform":[{"filter":"isValid(datum.q)"}],"mark":{"type":"rule","strokeWidth":1.4},"encoding":{"x":{"field":"a","type":"temporal","axis":null},"x2":{"field":"b"},"y":{"field":"q","type":"quantitative","title":null,"scale":{"domain":[-28520,4513400],"nice":false,"zero":false},"axis":{"orient":"right","grid":false,"domain":false,"ticks":false,"values":[0,500000,1000000,1500000,2000000,2500000,3000000,3500000,4000000],"format":",d","labelColor":"#4C5F7E","labelFontSize":13,"labelPadding":2}},"color":{"condition":{"test":"datum.q===0","value":"#FFFFFF"},"value":"#8C8C8C"}}},
{"data":{"name":"ohlc"},"mark":{"type":"bar","size":1.6,"opacity":0.2},"encoding":{"x":{"field":"t","type":"temporal","axis":null},"y":{"field":"v","type":"quantitative","stack":null,"title":null},"color":{"condition":{"test":"datum.vs=='d'||(!datum.vs&&datum.c<datum.o)","value":"#0000FF"},"value":"#FF0000"}}},
{"data":{"name":"vlabel"},"mark":{"type":"text","clip":false,"angle":270,"font":"Open Sans","fontSize":14,"fontWeight":"bold","color":"#2A3F5F","baseline":"middle","align":"center"},"encoding":{"x":{"field":"t","type":"temporal","axis":null},"y":{"field":"v","type":"quantitative","title":null},"text":{"field":"label"}}}
]},
{"layer":[
{"data":{"name":"ohlc"},"mark":{"type":"rule","strokeCap":"square"},"encoding":{"x":{"field":"t","type":"temporal","axis":null},"y":{"field":"l","type":"quantitative","title":"Price","scale":{"domain":[2032.9,2528.8],"nice":false,"zero":false},"axis":{"orient":"left","grid":false,"domain":false,"ticks":false,"values":[2050,2100,2150,2200,2250,2300,2350,2400,2450,2500],"format":",d","labelColor":"#4C5F7E","labelFontSize":13,"labelPadding":1,"titleColor":"#2A3F5F","titleFontSize":14,"titleFontWeight":"bold","titleX":-58}},"y2":{"field":"h"},"strokeWidth":{"condition":{"test":"datum.h==datum.l","value":1.2},"value":2.4},"opacity":{"condition":{"test":"datum.h==datum.l","value":0.6},"value":1},"color":{"condition":{"test":"datum.c>=datum.o","value":"#FF0000"},"value":"#0000FF"}}},
{"data":{"name":"ohlc"},"mark":{"type":"bar","size":3.2},"encoding":{"x":{"field":"t","type":"temporal","axis":null},"y":{"field":"o","type":"quantitative","stack":null},"y2":{"field":"c"},"color":{"condition":{"test":"datum.c>=datum.o","value":"#FF0000"},"value":"#0000FF"}}},
{"data":{"name":"news"},"mark":{"type":"rule","color":"#3355EE","opacity":0.28},"encoding":{"x":{"field":"t","type":"temporal","axis":null},"y":{"field":"low","type":"quantitative"},"y2":{"field":"high"},"strokeWidth":{"field":"w","type":"quantitative","scale":null}}},
{"data":{"name":"news"},"mark":{"type":"text","fontSize":12,"color":"#444444","font":"Open Sans","baseline":"middle","clip":false},"encoding":{"x":{"field":"t","type":"temporal","axis":null},"y":{"field":"high","type":"quantitative"},"text":{"field":"label"}}},
{"data":{"name":"xlabels"},"mark":{"type":"text","fontSize":13,"color":"#4C5F7E","font":"Open Sans","baseline":"middle","align":"center","clip":false},"encoding":{"x":{"field":"t","type":"temporal","axis":null},"y":{"field":"pos","type":"quantitative"},"text":{"field":"label"}}}
]}
]},
{"width":827,"height":120,"resolve":{"scale":{"y":"independent"},"axis":{"y":"independent"}},"layer":[
{"data":{"name":"sliderBg"},"mark":{"type":"rect","color":"#E5ECF6"},"encoding":{"x":{"field":"a","type":"temporal","axis":null,"scale":{"domain":["2023-04-24T08:58:05","2023-04-24T15:30:18"]}},"x2":{"field":"b"},"y":{"field":"p","type":"quantitative","axis":null,"scale":{"domain":[2034.4,2528.8],"nice":false,"zero":false}},"y2":{"field":"q"}}},
{"data":{"name":"ohlc"},"mark":{"type":"bar","size":1.6,"opacity":0.2},"encoding":{"x":{"field":"t","type":"temporal","axis":null},"y":{"field":"v","type":"quantitative","stack":null,"axis":null,"scale":{"domain":[-14000,4513400],"nice":false,"zero":false}},"color":{"condition":{"test":"datum.vs=='d'||(!datum.vs&&datum.c<datum.o)","value":"#0000FF"},"value":"#FF0000"}}},
{"layer":[
{"data":{"name":"ohlc"},"mark":{"type":"rule","strokeCap":"square"},"encoding":{"x":{"field":"t","type":"temporal","axis":null},"y":{"field":"l","type":"quantitative","axis":null,"scale":{"domain":[2034.4,2528.8],"nice":false,"zero":false}},"y2":{"field":"h"},"strokeWidth":{"condition":{"test":"datum.h==datum.l","value":1.2},"value":2.4},"opacity":{"condition":{"test":"datum.h==datum.l","value":0.6},"value":1},"color":{"condition":{"test":"datum.c>=datum.o","value":"#FF0000"},"value":"#0000FF"}}},
{"data":{"name":"ohlc"},"mark":{"type":"bar","size":3.2},"encoding":{"x":{"field":"t","type":"temporal","axis":null},"y":{"field":"o","type":"quantitative","stack":null,"axis":null},"y2":{"field":"c"},"color":{"condition":{"test":"datum.c>=datum.o","value":"#FF0000"},"value":"#0000FF"}}},
{"data":{"name":"handles"},"mark":{"type":"rect","fill":"#FFFFFF","stroke":"#333333","strokeWidth":1},"encoding":{"x":{"field":"a","type":"temporal","axis":null},"x2":{"field":"b"},"y":{"field":"p","type":"quantitative","axis":null},"y2":{"field":"q"}}}
]}
]}
]}
